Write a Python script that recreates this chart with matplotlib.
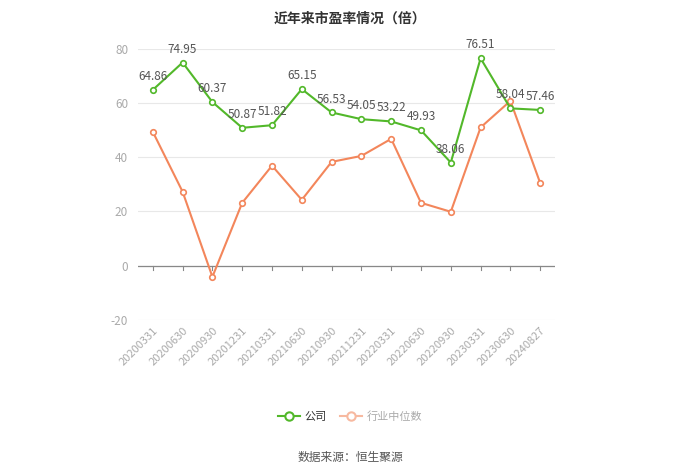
import numpy as np
import matplotlib
matplotlib.use("Agg")
import matplotlib.pyplot as plt
from matplotlib.lines import Line2D

plt.rcParams['font.family'] = ['Noto Sans CJK SC', 'DejaVu Sans']
plt.rcParams['axes.unicode_minus'] = False

dates = ["20200331", "20200630", "20200930", "20201231", "20210331", "20210630",
         "20210930", "20211231", "20220331", "20220630", "20220930", "20230331",
         "20230630", "20240827"]
company = [64.86, 74.95, 60.37, 50.87, 51.82, 65.15, 56.53, 54.05, 53.22, 49.93,
           38.06, 76.51, 58.04, 57.46]
industry = [49.4, 27.3, -4.1, 23.2, 36.9, 24.3, 38.3, 40.5, 46.8, 23.2, 19.9,
            51.0, 60.8, 30.5]

GREEN = "#52b82a"
ORANGE = "#f3865b"

fig = plt.figure(figsize=(7, 4.74), dpi=100)
ax = fig.add_axes([0.197, 0.325, 0.596, 0.572])
x = np.arange(len(dates))

ax.plot(x, company, color=GREEN, lw=1.5, marker="o", ms=4, mfc="white",
        mec=GREEN, mew=1.2, zorder=3)
ax.plot(x, industry, color=ORANGE, lw=1.5, marker="o", ms=4, mfc="white",
        mec=ORANGE, mew=1.2, zorder=2)
for xi, v in zip(x, company):
    ax.annotate(f"{v:.2f}", (xi, v), xytext=(0, 5), textcoords="offset points",
                ha="center", va="bottom", fontsize=8.5, color="#555555", zorder=4)

ax.set_xlim(-0.5, len(dates) - 0.5)
ax.set_ylim(-20, 80)
ax.set_yticks([-20, 0, 20, 40, 60, 80])
ax.grid(axis="y", color="#e8e8e8", lw=0.8)
ax.set_axisbelow(True)
for s in ["top", "right", "left", "bottom"]:
    ax.spines[s].set_visible(False)
ax.axhline(0, color="#888888", lw=0.9, zorder=1)
ax.set_xticks(x)
ax.set_xticklabels(dates, rotation=45, ha="right", rotation_mode="anchor",
                   fontsize=8, color="#aaaaaa")
ax.tick_params(axis="x", length=0, pad=4)
ax.tick_params(axis="y", length=0, labelsize=8.5, labelcolor="#aaaaaa", pad=7)
# small ticks on zero axis
for xi in x:
    ax.plot([xi, xi], [0, -1.5], color="#888888", lw=0.8, zorder=1)

fig.text(0.5, 0.975, "近年来市盈率情况（倍）", ha="center", va="top",
         fontsize=10, fontweight="bold", color="#333333")

handles = [
    Line2D([0], [0], color=GREEN, lw=1.5, marker="o", ms=6, mfc="white", mec=GREEN, mew=1.5),
    Line2D([0], [0], color="#f7b9a0", lw=1.5, marker="o", ms=6, mfc="white", mec="#f7b9a0", mew=1.5),
]
leg = fig.legend(handles, ["公司", "行业中位数"], loc="center", bbox_to_anchor=(0.5, 0.122),
                 ncol=2, frameon=False, fontsize=8, handlelength=2.0, columnspacing=1.2,
                 handletextpad=0.4)
leg.get_texts()[0].set_color("#333333")
leg.get_texts()[1].set_color("#aaaaaa")

fig.text(0.5, 0.035, "数据来源：恒生聚源", ha="center", va="center",
         fontsize=8.5, color="#555555")

fig.savefig("out.png", dpi=100)
